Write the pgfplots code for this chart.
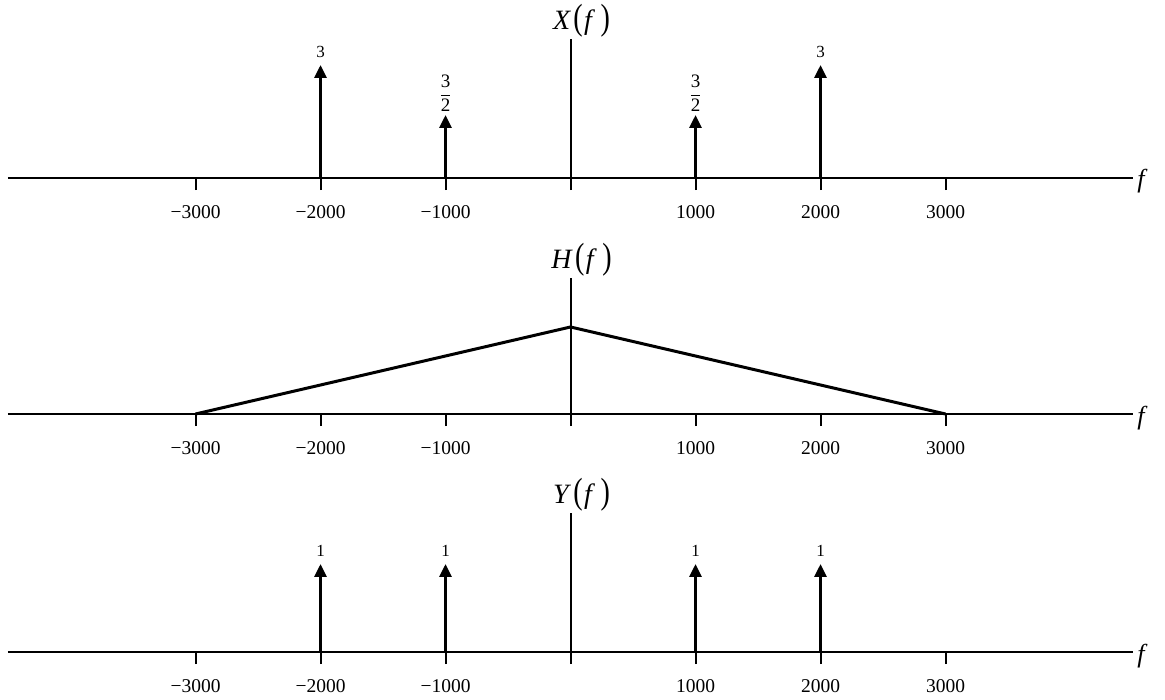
\documentclass[border=0pt]{standalone}
\usepackage{pgfplots}
\pgfplotsset{compat=1.18}
\usepackage{fontspec}
\setmainfont{Liberation Serif}
\usepackage{amsmath}
\usepackage{graphicx}
\usetikzlibrary{arrows.meta}

\pgfplotsset{
  spec/.style={
    scale only axis, width=562.5pt,
    xmin=-4500, xmax=4500, ymin=0,
    axis x line*=bottom, axis y line=none,
    xtick={-3000,-2000,-1000,0,1000,2000,3000},
    xticklabels={−3000,−2000,−1000,,1000,2000,3000},
    tick align=outside, major tick length=6pt,
    every tick/.style={line width=1pt, black},
    axis line style={line width=1pt},
    xticklabel style={font=\fontsize{9.75}{12}\selectfont, inner sep=0pt, yshift=-7.75pt},
    clip=false,
    anchor=south west,
  },
  stem/.style={line width=1.5pt, -{Triangle[length=6.5pt,width=6pt]}, shorten >=-6.5pt,
    quiver={u=0,v=\thisrow{v}}},
}
\newcommand{\bigp}[1]{\scalebox{1}[1.3]{#1}}
\newcommand{\flabel}[1]{\fontsize{14}{16}\selectfont\textit{#1}\hspace{0.08em}\bigp{(}\hspace{0.05em}\textit{f}\hspace{0.2em}\bigp{)}}

\begin{document}
\begin{tikzpicture}
\path (0pt,0pt) rectangle (582.5pt,-350pt);

% ---------- X(f) ----------
\begin{axis}[spec, at={(4pt,-89pt)}, height=69.5pt, ymax=4.17]
  \addplot[stem] table[x=x, y=y, row sep=\\] {
    x y v \\
    -2000 0 3 \\
    -1000 0 1.5 \\
    1000 0 1.5 \\
    2000 0 3 \\
  };
  \draw[line width=1pt] (axis cs:0,0) -- (axis cs:0,4.17);
  \node[anchor=south, inner sep=0pt, font=\fontsize{8.5}{10}\selectfont, yshift=10pt] at (axis cs:-2000,3) {3};
  \node[anchor=south, inner sep=0pt, font=\fontsize{8.5}{10}\selectfont, yshift=10pt] at (axis cs:2000,3) {3};
  \node[anchor=south, inner sep=0pt, font=\fontsize{9.5}{11}\selectfont, yshift=8pt] at (axis cs:-1000,1.5) {$\displaystyle\frac{\text{3}}{\text{2}}$};
  \node[anchor=south, inner sep=0pt, font=\fontsize{9.5}{11}\selectfont, yshift=8pt] at (axis cs:1000,1.5) {$\displaystyle\frac{\text{3}}{\text{2}}$};
  \node[anchor=south, inner sep=0pt, xshift=5.5pt, yshift=0.5pt] at (axis cs:0,4.17) {\flabel{X}};
  \node[anchor=base west, inner sep=0pt, font=\fontsize{13}{15}\selectfont, xshift=2pt, yshift=-5pt] at (axis cs:4500,0) {\textit{f}};
\end{axis}

% ---------- H(f) ----------
\begin{axis}[spec, at={(4pt,-207pt)}, height=68pt, ymax=1.563]
  \addplot[line width=1.5pt, black] coordinates {(-3000,0) (0,1) (3000,0)};
  \draw[line width=1pt] (axis cs:0,0) -- (axis cs:0,1.563);
  \node[anchor=south, inner sep=0pt, xshift=5.5pt, yshift=0.5pt] at (axis cs:0,1.563) {\flabel{H}};
  \node[anchor=base west, inner sep=0pt, font=\fontsize{13}{15}\selectfont, xshift=2pt, yshift=-5pt] at (axis cs:4500,0) {\textit{f}};
\end{axis}

% ---------- Y(f) ----------
\begin{axis}[spec, at={(4pt,-326pt)}, height=69.5pt, ymax=1.853]
  \addplot[stem] table[x=x, y=y, row sep=\\] {
    x y v \\
    -2000 0 1 \\
    -1000 0 1 \\
    1000 0 1 \\
    2000 0 1 \\
  };
  \draw[line width=1pt] (axis cs:0,0) -- (axis cs:0,1.853);
  \foreach \xx in {-2000,-1000,1000,2000}{
    \edef\tmp{\noexpand\node[anchor=south, inner sep=0pt, font=\noexpand\fontsize{8.5}{10}\noexpand\selectfont, yshift=10pt] at (axis cs:\xx,1) {1};}
    \tmp
  }
  \node[anchor=south, inner sep=0pt, xshift=5.5pt, yshift=0.5pt] at (axis cs:0,1.853) {\flabel{Y}};
  \node[anchor=base west, inner sep=0pt, font=\fontsize{13}{15}\selectfont, xshift=2pt, yshift=-5pt] at (axis cs:4500,0) {\textit{f}};
\end{axis}
\end{tikzpicture}
\end{document}
